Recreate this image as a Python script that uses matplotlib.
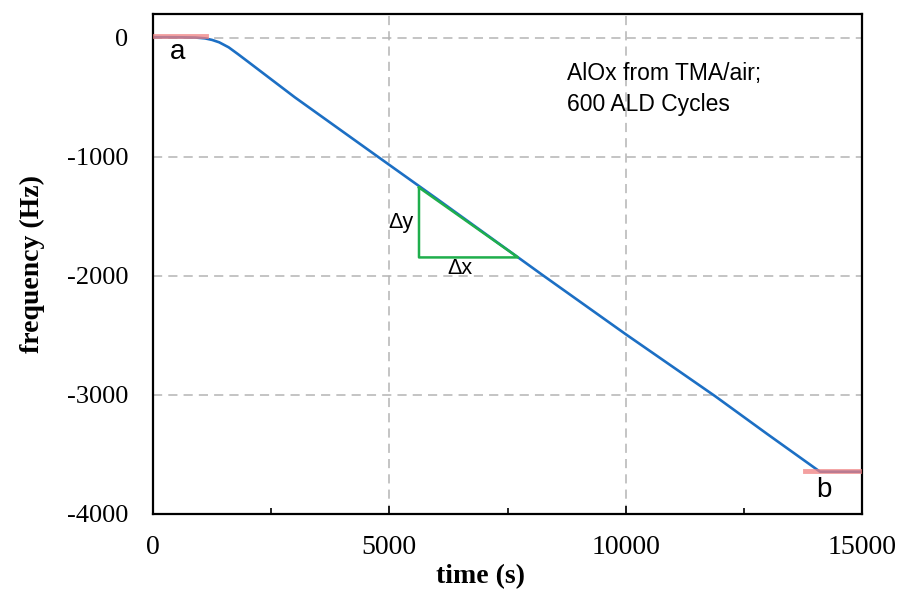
import matplotlib
matplotlib.use("Agg")
import matplotlib.pyplot as plt
from matplotlib.ticker import MultipleLocator

plt.rcParams['axes.unicode_minus'] = False

# frequency trace
time_s = [0, 300, 600, 900, 1100, 1250, 1400, 1600, 1800, 2000, 3000, 4760, 6000,
          8230, 10000, 11890, 13000, 14110, 14300, 14600, 15000]
freq_hz = [5, 5, 4, 2, -5, -18, -38, -80, -138, -198, -500, -1000, -1351,
           -1990, -2490, -3010, -3330, -3645, -3645, -3645, -3645]

# flat reference segments a and b
a_x = [0, 1120]
a_y = [12, 12]
b_x = [13790, 15000]
b_y = [-3642, -3642]

# slope triangle
tri_x = [5627, 5627, 7722, 5627]
tri_y = [-1258, -1845, -1845, -1258]

fig = plt.figure(figsize=(8.99, 5.92), dpi=100)
ax = fig.add_axes([0.1702, 0.1318, 0.7887, 0.8446])

ax.plot(a_x, a_y, color='#f08080', linewidth=3.5, alpha=0.75, zorder=3)
ax.plot(b_x, b_y, color='#f08080', linewidth=3.5, alpha=0.75, zorder=3)
ax.plot(time_s, freq_hz, color='#1c6fc4', linewidth=1.9, zorder=2)
ax.plot(tri_x, tri_y, color='#1fae4c', linewidth=1.8, zorder=4)

ax.set_xlim(0, 15000)
ax.set_ylim(-4000, 200)
ax.xaxis.set_major_locator(MultipleLocator(5000))
ax.xaxis.set_minor_locator(MultipleLocator(2500))
ax.yaxis.set_major_locator(MultipleLocator(1000))

ax.grid(True, which='major', color='#b4b4b4', linestyle=(0, (6, 4)), linewidth=1.1)
ax.set_axisbelow(True)

for s in ax.spines.values():
    s.set_linewidth(1.6)
    s.set_color('black')

ax.tick_params(axis='x', which='major', direction='in', length=6, width=1.2, pad=15, labelsize=20)
ax.tick_params(axis='x', which='minor', direction='in', length=4, width=1.2)
ax.tick_params(axis='y', which='major', direction='in', length=0, pad=18, labelsize=19)
for lbl in ax.get_xticklabels() + ax.get_yticklabels():
    lbl.set_family('Liberation Serif')

ax.set_xlabel('time (s)', fontsize=20, fontweight='bold', family='Liberation Serif')
ax.xaxis.set_label_coords((480 - 153) / 709, -0.1)
ax.set_ylabel('frequency (Hz)', fontsize=20, fontweight='bold', family='Liberation Serif')
ax.yaxis.set_label_coords(-0.152, 0.5)

sans = 'Liberation Sans'
ax.text(350, -120, 'a', fontsize=20, family=sans, ha='left', va='center')
ax.text(14030, -3800, 'b', fontsize=20, family=sans, ha='left', va='center')
ax.text(5520, -1550, '\u0394y', fontsize=15.5, family=sans, ha='right', va='center')
ax.text(6495, -1940, '\u0394x', fontsize=15.5, family=sans, ha='center', va='center')
ax.text(8760, -430, 'AlOx from TMA/air;\n600 ALD Cycles', fontsize=16.5, family=sans,
        ha='left', va='center', linespacing=1.45)

fig.savefig('out.png', dpi=100)
